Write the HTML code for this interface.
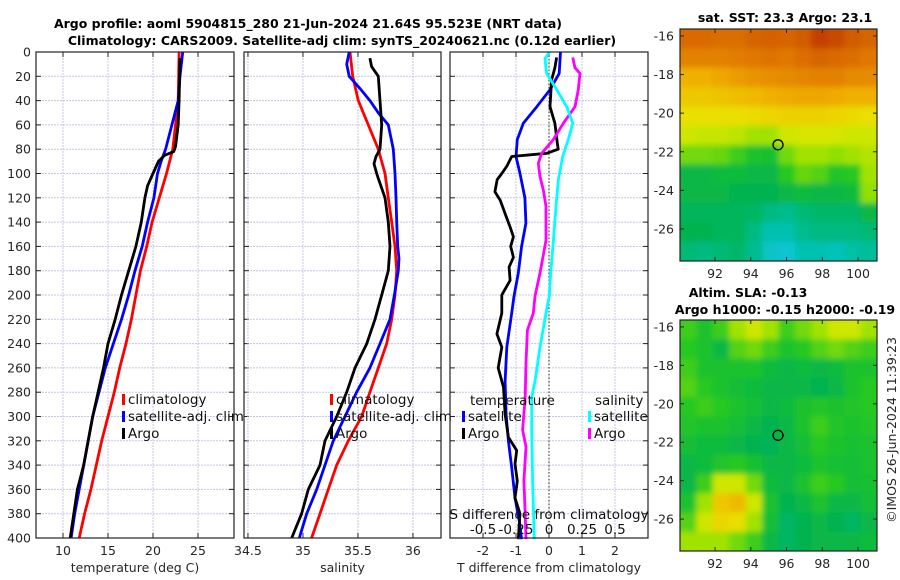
<!DOCTYPE html>
<html><head><meta charset="utf-8"><style>
html,body{margin:0;padding:0;background:#fff}
svg{display:block;font-family:"DejaVu Sans","Liberation Sans",sans-serif}
</style></head><body>
<svg id="chart" width="900" height="580" viewBox="0 0 900 580" xmlns="http://www.w3.org/2000/svg">
<defs>
<filter id="blur" x="0" y="0" width="1" height="1"><feGaussianBlur stdDeviation="3" edgeMode="duplicate"/></filter>
<clipPath id="clipTop"><rect x="680" y="29" width="197" height="232"/></clipPath>
<clipPath id="clipBot"><rect x="680" y="320" width="197" height="231"/></clipPath>
</defs>
<g font-weight="bold" font-size="12.5" fill="#000" text-anchor="middle">
<text x="308" y="28">Argo profile: aoml 5904815_280 21-Jun-2024 21.64S 95.523E (NRT data)</text>
<text x="342" y="45">Climatology: CARS2009. Satellite-adj clim: synTS_20240621.nc (0.12d earlier)</text>
<text x="785" y="22">sat. SST: 23.3 Argo: 23.1</text>
<text x="748" y="297">Altim. SLA: -0.13</text>
<text x="785" y="314">Argo h1000: -0.15 h2000: -0.19</text>
</g>
<text transform="translate(896,430) rotate(-90)" text-anchor="middle" font-size="12.5" fill="#262626">©IMOS 26-Jun-2024 11:39:23</text>
<g id="plots"></g>
</svg>
<script>
// ---------- data ----------
const depthTicks = [0,20,40,60,80,100,120,140,160,180,200,220,240,260,280,300,320,340,360,380,400];
const tempTicks = [10,15,20,25];
const salTicks = [34.5,35,35.5,36];
const salTickLabels = ['34.5','35','35.5','36'];
const diffTicks = [-2,-1,0,1,2];
const sdiffTicks = [-0.5,-0.25,0,0.25,0.5];
const sdiffTickLabels = ['-0.5','-0.25','0','0.25','0.5'];

const tClimDepth = [0,40,80,100,120,140,160,180,200,220,240,260,280,300,320,340,360,380,400];
const tClim = [22.9,22.8,22.2,21.5,20.7,19.9,19.3,18.6,18.1,17.6,17.0,16.3,15.7,15.0,14.3,13.7,13.1,12.4,11.8];
const tSatDepth = [0,20,40,60,80,90,100,120,140,160,180,200,220,240,260,280,300,320,340,360,380,400];
const tSat = [23.3,23.0,22.8,22.1,21.4,20.9,20.5,20.1,19.4,18.8,18.0,17.3,16.5,15.6,14.7,14.0,13.3,12.8,12.3,11.8,11.3,10.9];
const tArgoDepth = [5,40,60,78,82,85,90,100,110,120,140,160,180,200,220,240,260,280,300,320,340,360,380,400];
const tArgo = [23.0,22.9,22.8,22.5,22.3,21.3,20.6,20.0,19.4,19.1,18.7,18.1,17.3,16.5,15.8,15.0,14.5,13.9,13.3,12.8,12.3,11.6,11.2,10.8];

const sClimDepth = [0,20,40,60,80,100,120,140,160,180,200,220,240,260,280,300,320,340,360,380,400];
const sClim = [35.428,35.452,35.503,35.594,35.685,35.746,35.776,35.807,35.837,35.852,35.837,35.807,35.761,35.685,35.609,35.534,35.412,35.307,35.230,35.155,35.079];
const sSatDepth = [0,10,20,30,40,50,60,80,100,120,140,160,170,180,200,220,240,260,280,300,320,340,360,380,400];
const sSat = [35.42,35.398,35.42,35.518,35.609,35.685,35.776,35.821,35.837,35.846,35.852,35.861,35.873,35.867,35.831,35.791,35.70,35.609,35.488,35.382,35.276,35.2,35.125,35.034,34.967];
const sArgoDepth = [5,12,20,40,60,80,86,92,100,104,120,140,160,180,200,220,240,260,280,300,320,340,360,380,400];
const sArgo = [35.609,35.624,35.685,35.70,35.716,35.70,35.664,35.646,35.67,35.685,35.746,35.776,35.791,35.776,35.716,35.655,35.58,35.473,35.398,35.307,35.2,35.155,35.049,34.988,34.898];

const dtSatDepth = [0,17.6,31,45,58.7,72,86,100,120,141,160,182,201,215,243,271,298,320,342,367,386,401];
const dtSat = [0.35,0.31,0.03,-0.37,-0.78,-0.96,-1.0,-0.88,-0.73,-0.7,-0.83,-0.93,-1.06,-1.13,-1.28,-1.33,-1.3,-1.23,-1.13,-1.03,-0.9,-0.83];
const dtArgoDepth = [4.5,13,23,45,58.7,75,80,83.4,86,94,100,105,115,122,133,144,152,160,169,177,188,200,215,232,243,260,276,298,317,328,339,353,367,380,401];
const dtArgo = [0.23,0.18,0.08,0.03,0.18,0.25,0.28,-0.07,-1.13,-1.28,-1.43,-1.57,-1.64,-1.48,-1.33,-1.18,-1.08,-1.16,-1.08,-1.21,-1.18,-1.43,-1.43,-1.58,-1.43,-1.54,-1.38,-1.33,-1.23,-0.98,-1.03,-0.96,-1.03,-0.88,-0.93];
const dsArgoDepth = [4.5,13,17.6,31,45,58.7,72,83.4,91.6,102.5,113.5,127,155,182,201,215,229,256,284,311,325,353,380,401];
const dsArgo = [0.18,0.197,0.235,0.222,0.197,0.108,0.033,-0.055,-0.081,-0.068,-0.043,-0.023,-0.023,-0.068,-0.106,-0.119,-0.164,-0.174,-0.18,-0.2,-0.174,-0.19,-0.18,-0.174];
const dsSatDepth = [0,5.5,17.6,31,45,58.7,72,86,105,127,155,182,201,215,243,271,284,311,353,401];
const dsSat = [0.003,-0.03,-0.018,0.058,0.134,0.18,0.146,0.104,0.071,0.053,0.033,0.013,0.002,-0.023,-0.068,-0.106,-0.131,-0.131,-0.124,-0.111];

const lonTicks = [92,94,96,98,100];
const latTicks = [-16,-18,-20,-22,-24,-26];
const argoLon = 95.523, argoLat = -21.64;
const sstGrid = [
 [0.85,0.85,0.84,0.84,0.86,0.87,0.86,0.88,0.93,0.92,0.88,0.86],
 [0.8,0.8,0.8,0.81,0.82,0.83,0.82,0.84,0.86,0.85,0.84,0.82],
 [0.7,0.7,0.72,0.74,0.76,0.77,0.78,0.79,0.8,0.8,0.78,0.78],
 [0.65,0.65,0.66,0.67,0.68,0.7,0.71,0.72,0.72,0.71,0.7,0.7],
 [0.6,0.6,0.6,0.6,0.61,0.62,0.63,0.63,0.63,0.62,0.61,0.6],
 [0.55,0.54,0.54,0.53,0.5,0.5,0.55,0.56,0.56,0.56,0.55,0.55],
 [0.45,0.45,0.44,0.4,0.35,0.34,0.45,0.5,0.5,0.48,0.5,0.52],
 [0.3,0.3,0.32,0.32,0.3,0.3,0.38,0.44,0.42,0.36,0.38,0.5],
 [0.3,0.3,0.3,0.28,0.28,0.28,0.3,0.32,0.3,0.3,0.32,0.48],
 [0.26,0.26,0.26,0.26,0.25,0.2,0.18,0.22,0.24,0.24,0.24,0.3],
 [0.28,0.28,0.26,0.26,0.2,0.12,0.12,0.18,0.2,0.2,0.2,0.22],
 [0.22,0.2,0.22,0.24,0.18,0.08,0.06,0.12,0.12,0.1,0.14,0.16]
];
const slaGrid = [
 [0.4,0.35,0.4,0.5,0.55,0.5,0.4,0.45,0.5,0.55,0.55,0.5],
 [0.38,0.35,0.3,0.42,0.45,0.4,0.35,0.38,0.42,0.45,0.42,0.4],
 [0.4,0.35,0.35,0.35,0.35,0.32,0.3,0.32,0.3,0.32,0.35,0.35],
 [0.42,0.38,0.35,0.33,0.32,0.3,0.3,0.3,0.28,0.3,0.35,0.38],
 [0.38,0.4,0.38,0.35,0.33,0.3,0.32,0.35,0.36,0.35,0.36,0.38],
 [0.36,0.35,0.35,0.33,0.3,0.28,0.3,0.35,0.4,0.36,0.35,0.36],
 [0.33,0.32,0.32,0.3,0.28,0.27,0.3,0.33,0.38,0.35,0.34,0.35],
 [0.3,0.32,0.36,0.38,0.34,0.3,0.3,0.32,0.35,0.34,0.33,0.35],
 [0.3,0.4,0.55,0.55,0.45,0.32,0.3,0.35,0.4,0.38,0.33,0.34],
 [0.35,0.5,0.65,0.68,0.55,0.35,0.28,0.3,0.35,0.3,0.3,0.33],
 [0.42,0.55,0.62,0.6,0.5,0.33,0.25,0.28,0.3,0.28,0.25,0.3],
 [0.5,0.5,0.5,0.45,0.4,0.3,0.25,0.28,0.3,0.3,0.3,0.32]
];

// ---------- helpers ----------
const NS='http://www.w3.org/2000/svg';
const root=document.getElementById('plots');
function mk(tag,attrs,parent){const e=document.createElementNS(NS,tag);for(const k in attrs)e.setAttribute(k,attrs[k]);(parent||root).appendChild(e);return e;}
function txt(s,x,y,anchor,size,parent){const t=mk('text',{x:x,y:y,'text-anchor':anchor,'font-size':size||12.5,fill:'#262626'},parent);t.textContent=s;return t;}
const Y0=52,Y1=538;
const yD=d=>Y0+(d/400)*(Y1-Y0);
function lin(d0,d1,r0,r1){return v=>r0+(v-d0)/(d1-d0)*(r1-r0);}
const xT=lin(7,29,36,234);
const xS=lin(34.464,36.255,244,441);
const xDT=lin(-3,3,450,648);
const xDS=v=>xDT(v*4);

function panel(name,x0,x1,xf,ticks,labels,xlabel,showY){
  const g=mk('g',{});
  
  
  depthTicks.forEach(d=>{const l=mk('line',{x1:x0,x2:x1,y1:yD(d),y2:yD(d),stroke:'#c4c8e4','stroke-width':1,'stroke-dasharray':'2,1'},g);
    
    mk('line',{x1:x0,x2:x0+5,y1:yD(d),y2:yD(d),stroke:'#222'},g);mk('line',{x1:x1-5,x2:x1,y1:yD(d),y2:yD(d),stroke:'#222'},g);
    if(showY){const t=txt(String(d),31,yD(d)+4.5,'end',12.5,g);}
  });
  ticks.forEach((v,i)=>{const x=xf(v);
    const l=mk('line',{x1:x,x2:x,y1:Y0,y2:Y1,stroke:'#c4c8e4','stroke-width':1,'stroke-dasharray':'2,1'},g);
    
    mk('line',{x1:x,x2:x,y1:Y1-5,y2:Y1,stroke:'#222'},g);mk('line',{x1:x,x2:x,y1:Y0,y2:Y0+5,stroke:'#222'},g);
    const t=txt(labels[i],x,555,'middle',12.5,g);
  });
  const xl=txt(xlabel,(x0+x1)/2,572,'middle',12.5,g);
  
  return g;
}
function frame(g,x0,x1){const r=mk('rect',{x:x0,y:Y0,width:x1-x0,height:Y1-Y0,fill:'none',stroke:'#222','stroke-width':1.2},g);
  }
function series(g,name,xs,ds,xf,color){
  const pts=xs.map((v,i)=>xf(v).toFixed(1)+','+yD(ds[i]).toFixed(1)).join(' ');
  const p=mk('polyline',{points:pts,fill:'none',stroke:color,'stroke-width':2.8,'stroke-linejoin':'round'},g);
  
}
function legend(g,x,y,items){
  items.forEach((it,i)=>{const yy=y+i*17;
    const m=mk('rect',{x:x,y:yy-9,width:3,height:11,fill:it[1]},g);
    
    const t=txt(it[0],x+6,yy+1,'start',13.5,g);t.setAttribute('fill','#111');
    
  });
}

let g1=panel('temperature-panel',36,234,xT,tempTicks,tempTicks.map(String),'temperature (deg C)',true);
series(g1,'temp-climatology-line',tClim,tClimDepth,xT,'#ff0000');
series(g1,'temp-satellite-line',tSat,tSatDepth,xT,'#0000ff');
series(g1,'temp-argo-line',tArgo,tArgoDepth,xT,'#000000');
frame(g1,36,234);
legend(g1,122,403,[['climatology','#ff0000'],['satellite-adj. clim','#0000ff'],['Argo','#000']]);

let g2=panel('salinity-panel',244,441,xS,salTicks,salTickLabels,'salinity',false);
series(g2,'sal-climatology-line',sClim,sClimDepth,xS,'#ff0000');
series(g2,'sal-satellite-line',sSat,sSatDepth,xS,'#0000ff');
series(g2,'sal-argo-line',sArgo,sArgoDepth,xS,'#000000');
frame(g2,244,441);
legend(g2,330,403,[['climatology','#ff0000'],['satellite-adj. clim','#0000ff'],['Argo','#000']]);

let g3=panel('difference-panel',450,648,xDT,diffTicks,diffTicks.map(String),'T difference from climatology',false);
const zl=mk('line',{x1:xDT(0),x2:xDT(0),y1:Y0,y2:Y1,stroke:'#555530','stroke-width':1.2,'stroke-dasharray':'1.5,2'},g3);

series(g3,'dT-satellite-line',dtSat,dtSatDepth,xDT,'#0000ff');
series(g3,'dT-argo-line',dtArgo,dtArgoDepth,xDT,'#000000');
series(g3,'dS-argo-line',dsArgo,dsArgoDepth,xDS,'#ff00ff');
series(g3,'dS-satellite-line',dsSat,dsSatDepth,xDS,'#00ffff');
frame(g3,450,648);
let lt=txt('temperature',470,405,'start',13.5,g3);lt.setAttribute('fill','#111');

let ls=txt('salinity',595,405,'start',13.5,g3);ls.setAttribute('fill','#111');

legend(g3,462,420,[['satellite','#0000ff'],['Argo','#000']]);
legend(g3,588,420,[['satellite','#00ffff'],['Argo','#ff00ff']]);
let st=txt('S difference from climatology',549,519,'middle',13.5,g3);st.setAttribute('fill','#111');

sdiffTicks.forEach((v,i)=>{const t=txt(sdiffTickLabels[i],xDS(v),534,'middle',13.5,g3);t.setAttribute('fill','#111');
  });

const stops=[[0,[16,200,240]],[0.15,[0,191,160]],[0.28,[0,179,80]],[0.38,[40,200,32]],[0.48,[144,224,0]],[0.58,[232,232,0]],[0.7,[240,176,0]],[0.82,[224,120,0]],[0.92,[200,72,0]],[1,[168,16,0]]];
function cmap(v){for(let i=1;i<stops.length;i++){if(v<=stops[i][0]){const a=stops[i-1],b=stops[i];const f=(v-a[0])/(b[0]-a[0]);
  const c=a[1].map((q,k)=>Math.round(q+(b[1][k]-q)*f));return 'rgb('+c.join(',')+')';}}return 'rgb(168,16,0)';}
function map(name,grid,top,bot,clip){
  const g=mk('g',{});
  const xL=lin(90.04,101.06,680,877), yL=lin(-15.64,-27.66,top,bot);
  const cg=mk('g',{'clip-path':'url(#'+clip+')'},g);
  const bg=mk('g',{filter:'url(#blur)'},cg);
  const rows=grid.length, cols=grid[0].length;
  grid.forEach((row,r)=>row.forEach((v,c)=>{
    const lon0=90.04+c*(11.02/cols), lat0=-15.64-r*(12.02/rows);
    const x=xL(lon0), y=yL(lat0), w=xL(lon0+11.02/cols)-x, h=yL(lat0-12.02/rows)-y;
    const cell=mk('rect',{x:x-(c===0?10:0),y:y-(r===0?10:0),width:w+0.6+(c===0||c===cols-1?10:0),height:h+0.6+(r===0||r===rows-1?10:0),fill:cmap(v)},bg);
    
    
  }));
  const fr=mk('rect',{x:680,y:top,width:197,height:bot-top,fill:'none',stroke:'#222','stroke-width':1.2},g);
  
  lonTicks.forEach(v=>{const x=xL(v);mk('line',{x1:x,x2:x,y1:bot-4,y2:bot,stroke:'#222'},g);mk('line',{x1:x,x2:x,y1:top,y2:top+4,stroke:'#222'},g);
    const t=txt(String(v),x,bot+17,'middle',12.5,g);});
  latTicks.forEach(v=>{const y=yL(v);mk('line',{x1:680,x2:684,y1:y,y2:y,stroke:'#222'},g);mk('line',{x1:873,x2:877,y1:y,y2:y,stroke:'#222'},g);
    const t=txt(String(v),674,y+4.5,'end',12.5,g);});
  const m=mk('circle',{cx:xL(argoLon),cy:yL(argoLat),r:5,fill:'none',stroke:'#000','stroke-width':1.3},g);
  
}
map('sst-map',sstGrid,29,261,'clipTop');
map('sla-map',slaGrid,320,551,'clipBot');
</script>
</body></html>
